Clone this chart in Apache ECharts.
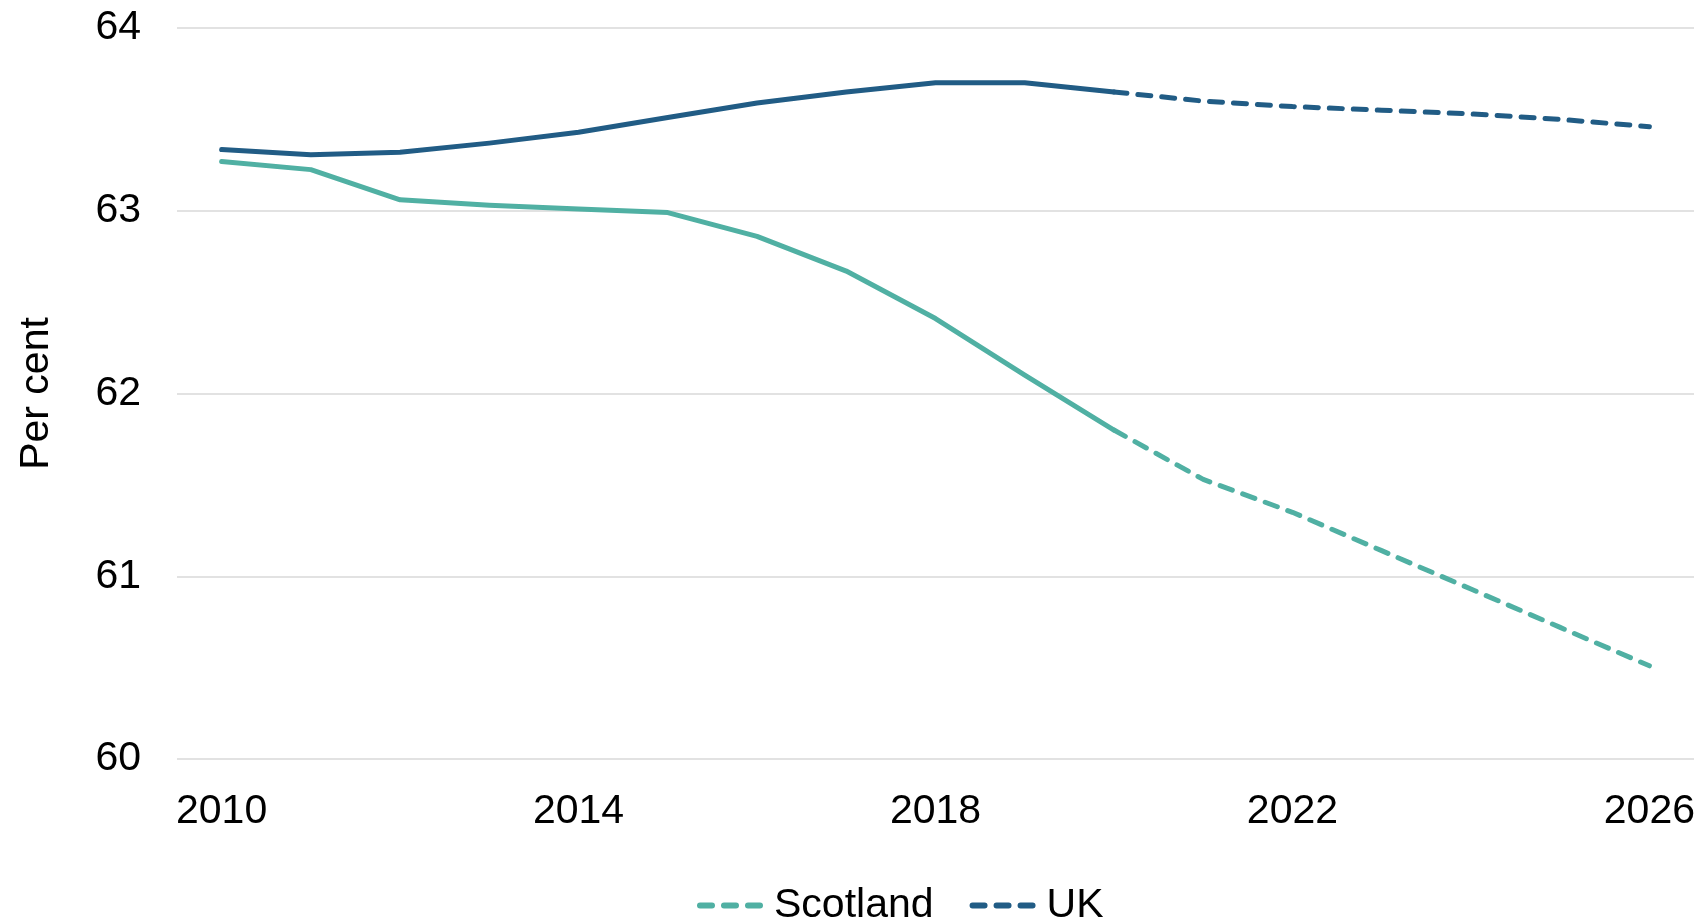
<!DOCTYPE html>
<html>
<head>
<meta charset="utf-8">
<script src="https://cdn.jsdelivr.net/npm/echarts@6/dist/echarts.min.js"></script>
<style>
html,body{margin:0;padding:0;background:#fff;}
#chart{width:1706px;height:924px;}
</style>
</head>
<body>
<div id="chart"></div>
<script>
const years = ['2010','2011','2012','2013','2014','2015','2016','2017','2018','2019','2020','2021','2022','2023','2024','2025','2026'];
const scotland = [63.27,63.225,63.06,63.03,63.01,62.99,62.86,62.67,62.41,62.10,61.80,61.53,61.35,61.14,60.93,60.72,60.51];
const uk = [63.335,63.307,63.32,63.37,63.43,63.51,63.59,63.65,63.70,63.70,63.65,63.60,63.57,63.55,63.53,63.50,63.46];
const lastActualIndex = 10; // 2020: solid up to here, dashed projection after
const yTicks = [60, 61, 62, 63, 64];

function actualPart(arr){ return arr.map((v,i)=> i<=lastActualIndex ? v : '-'); }
function projPart(arr){ return arr.map((v,i)=> i>=lastActualIndex ? v : '-'); }

const scotColor = '#50B0A3';
const ukColor = '#215C85';
const font = '"Liberation Sans", Arial, Helvetica, sans-serif';
const dash = [13, 11];

function capsule(x0, w, h){
  const r = h/2;
  return 'M' + (x0+r) + ',0 H' + (x0+w-r) + ' A' + r + ',' + r + ' 0 0 1 ' + (x0+w-r) + ',' + h +
         ' H' + (x0+r) + ' A' + r + ',' + r + ' 0 0 1 ' + (x0+r) + ',0 Z';
}
const legendIcon = 'path://' + capsule(0,18,6) + ' ' + capsule(24,18,6) + ' ' + capsule(48,18,6);

const chart = echarts.init(document.getElementById('chart'));
chart.setOption({
  animation: false,
  grid: { left: 177, right: 12, top: 28, bottom: 165, containLabel: false },
  legend: {
    data: ['Scotland', 'UK'],
    left: 692, top: 880,
    icon: legendIcon,
    itemWidth: 66, itemHeight: 7, itemGap: 36,
    textStyle: { fontFamily: font, fontSize: 41, color: '#000', padding: [0,0,0,6] }
  },
  xAxis: {
    type: 'category',
    data: years,
    boundaryGap: true,
    axisLine: { show: false },
    axisTick: { show: false },
    axisLabel: {
      interval: 3,
      margin: 32,
      fontFamily: font, fontSize: 41, color: '#000'
    }
  },
  yAxis: {
    type: 'value',
    min: yTicks[0], max: yTicks[yTicks.length-1], interval: 1,
    name: 'Per cent',
    nameLocation: 'middle',
    nameGap: 120,
    nameRotate: 90,
    nameTextStyle: { fontFamily: font, fontSize: 41, color: '#000' },
    axisLine: { show: false },
    axisTick: { show: false },
    axisLabel: { margin: 36, fontFamily: font, fontSize: 41, color: '#000' },
    splitLine: { lineStyle: { color: '#D9D9D9', width: 1.5 } }
  },
  series: [
    { name: 'Scotland actual', type: 'line', data: actualPart(scotland), symbol: 'none',
      lineStyle: { color: scotColor, width: 5, cap: 'round', join: 'round' }, itemStyle: { color: scotColor } },
    { name: 'Scotland', type: 'line', data: projPart(scotland), symbol: 'none',
      lineStyle: { color: scotColor, width: 5, type: dash, cap: 'round' }, itemStyle: { color: scotColor } },
    { name: 'UK actual', type: 'line', data: actualPart(uk), symbol: 'none',
      lineStyle: { color: ukColor, width: 5, cap: 'round', join: 'round' }, itemStyle: { color: ukColor } },
    { name: 'UK', type: 'line', data: projPart(uk), symbol: 'none',
      lineStyle: { color: ukColor, width: 5, type: dash, cap: 'round' }, itemStyle: { color: ukColor } }
  ]
});
</script>
</body>
</html>
